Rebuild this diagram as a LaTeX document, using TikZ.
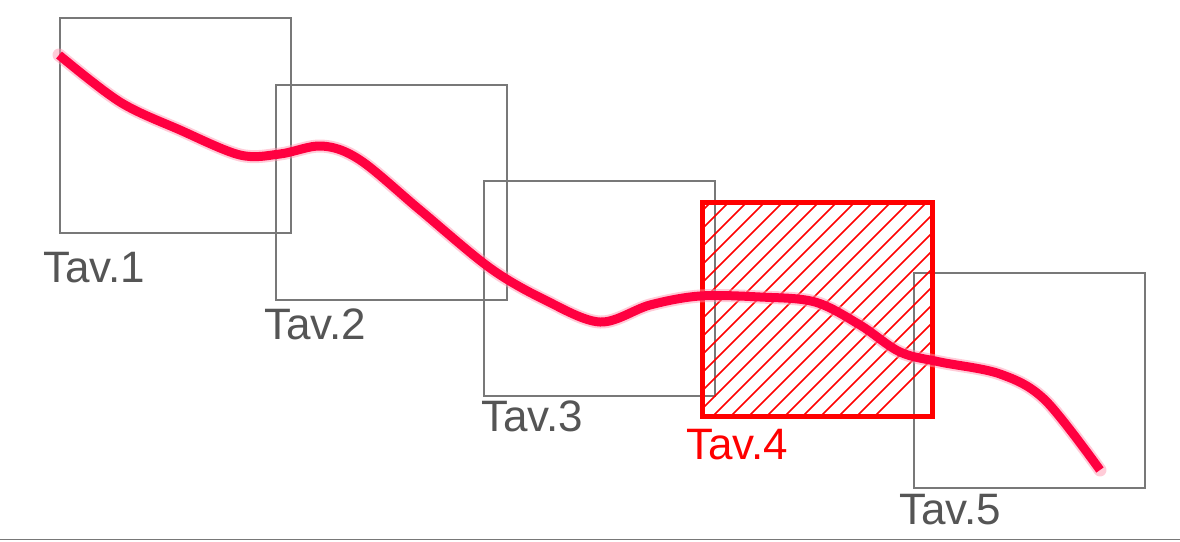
\documentclass[tikz,border=0pt]{standalone}
\usepackage{fontspec}
\setmainfont{Liberation Sans}
\definecolor{boxgray}{RGB}{120,120,120}
\definecolor{labgray}{RGB}{85,85,85}
\definecolor{curvered}{RGB}{255,0,64}
\definecolor{hatchred}{RGB}{255,0,0}
\begin{document}
\begin{tikzpicture}[x=1pt,y=-1pt,
  tav/.style={draw=boxgray,line width=1.5pt,minimum width=231pt,minimum height=215pt,inner sep=0pt,anchor=north west},
  lab/.style={anchor=base west,inner sep=0pt,text=labgray,font=\fontsize{44}{48}\selectfont},
  selbox/.style={draw=hatchred,line width=5pt,minimum width=230pt,minimum height=214pt,inner sep=0pt,anchor=north west}]
\useasboundingbox (0,0) rectangle (1180,541);
\draw[boxgray,line width=1.5pt] (0,539.5) -- (1180,539.5);
\node[tav] (b1) at (59,17) {};
\node[tav] (b2) at (275,84) {};
\node[tav] (b3) at (483,180) {};
\node[tav] (b5) at (913,272) {};
% hatched box
\begin{scope}
\clip (700,200) rectangle (930,414);
\foreach \c in {0,18,...,486}{
  \draw[hatchred,line width=1.6pt] (690+\c-300,415) -- (690+\c+300,-185);
}
\end{scope}
\node[selbox] (b4) at (700,200) {};
\node[lab] (l1) at (43,282) {Tav.1};
\node[lab] (l2) at (264,339) {Tav.2};
\node[lab] (l3) at (481,431) {Tav.3};
\node[lab,text=hatchred] (l4) at (686,459) {Tav.4};
\node[lab] (l5) at (899,524) {Tav.5};
\draw[curvered!40,line width=13pt,line cap=round,line join=round,opacity=0.5]
 plot[smooth,tension=0.55] coordinates {(59,55) (120,102) (180,130) (240,155) (280,154) (322,146) (360,160) (420,210) (490,268) (545,300) (600,322) (650,305) (700,296) (760,297) (815,302) (860,325) (900,352) (940,362) (1000,374) (1045,400) (1100,470)};
\draw[curvered,line width=9pt,line cap=butt,line join=round]
 plot[smooth,tension=0.55] coordinates {(59,55) (120,102) (180,130) (240,155) (280,154) (322,146) (360,160) (420,210) (490,268) (545,300) (600,322) (650,305) (700,296) (760,297) (815,302) (860,325) (900,352) (940,362) (1000,374) (1045,400) (1100,470)};
\end{tikzpicture}
\end{document}
